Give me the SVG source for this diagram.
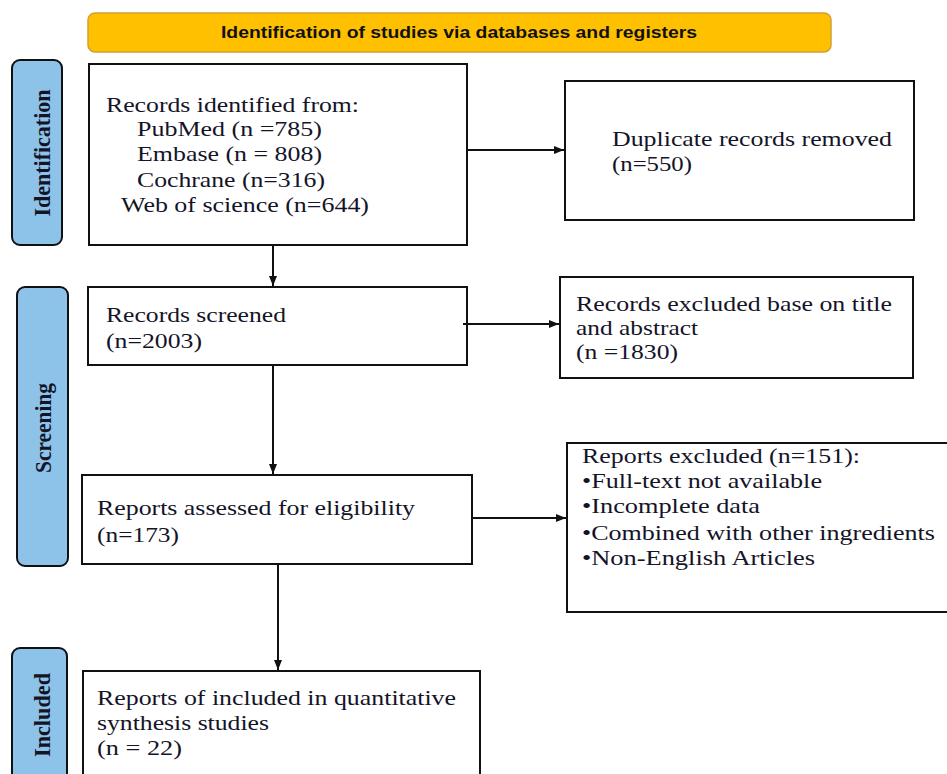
<svg xmlns="http://www.w3.org/2000/svg" width="947" height="774" viewBox="0 0 947 774">
<style>
.box{fill:#fff;stroke:#111;stroke-width:2}
.lab{fill:#8DC3E8;stroke:#111;stroke-width:2}
.t{font-family:"Liberation Serif","Times New Roman",serif;font-size:22px;fill:#141428}
.lt{font-family:"Liberation Serif","Times New Roman",serif;font-size:23px;font-weight:bold;fill:#141428;text-anchor:middle}
.ban{font-family:"Liberation Sans",Arial,sans-serif;font-size:16px;font-weight:bold;fill:#111;text-anchor:middle}
.c{stroke:#111;stroke-width:2;fill:none;marker-end:url(#ah)}
</style>
<defs>
<marker id="ah" markerWidth="10" markerHeight="8" refX="10" refY="4" orient="auto" markerUnits="userSpaceOnUse">
<path d="M0,0 L10,4 L0,8 Z" fill="#111"/>
</marker>
</defs>
<rect width="947" height="774" fill="#fff"/>
<g id="banner">
<rect x="88" y="13" width="743" height="39" rx="7" fill="#FFC000" stroke="#D2A030" stroke-width="1.5"/>
<text class="ban" x="459" y="38" textLength="476" lengthAdjust="spacingAndGlyphs">Identification of studies via databases and registers</text>
</g>
<g id="label-identification">
<rect class="lab" x="12" y="60" width="50" height="185" rx="8"/>
<text class="lt" transform="translate(50,153) rotate(-90)" textLength="127" lengthAdjust="spacingAndGlyphs">Identification</text>
</g>
<g id="label-screening">
<rect class="lab" x="17" y="287" width="51" height="279" rx="8"/>
<text class="lt" transform="translate(51,428) rotate(-90)" textLength="90" lengthAdjust="spacingAndGlyphs">Screening</text>
</g>
<g id="label-included">
<rect class="lab" x="12" y="648" width="55" height="140" rx="8"/>
<text class="lt" transform="translate(50,715) rotate(-90)" textLength="84" lengthAdjust="spacingAndGlyphs">Included</text>
</g>
<g id="records-identified">
<rect class="box" x="89" y="64" width="378" height="181"/>
<text class="t" x="106" y="112" textLength="253" lengthAdjust="spacingAndGlyphs">Records identified from:</text>
<text class="t" x="137" y="136" textLength="185" lengthAdjust="spacingAndGlyphs">PubMed (n =785)</text>
<text class="t" x="137" y="161" textLength="185" lengthAdjust="spacingAndGlyphs">Embase (n = 808)</text>
<text class="t" x="137" y="187" textLength="188" lengthAdjust="spacingAndGlyphs">Cochrane (n=316)</text>
<text class="t" x="121" y="212" textLength="248" lengthAdjust="spacingAndGlyphs">Web of science (n=644)</text>
</g>
<g id="duplicates">
<rect class="box" x="565" y="81" width="349" height="139"/>
<text class="t" x="612" y="146" textLength="280" lengthAdjust="spacingAndGlyphs">Duplicate records removed</text>
<text class="t" x="612" y="171" textLength="80" lengthAdjust="spacingAndGlyphs">(n=550)</text>
</g>
<g id="records-screened">
<rect class="box" x="88" y="287" width="379" height="78"/>
<text class="t" x="106" y="322" textLength="180" lengthAdjust="spacingAndGlyphs">Records screened</text>
<text class="t" x="106" y="348" textLength="96" lengthAdjust="spacingAndGlyphs">(n=2003)</text>
</g>
<g id="records-excluded">
<rect class="box" x="560" y="277" width="353" height="101"/>
<text class="t" x="576" y="311" textLength="316" lengthAdjust="spacingAndGlyphs">Records excluded base on title</text>
<text class="t" x="576" y="335" textLength="122" lengthAdjust="spacingAndGlyphs">and abstract</text>
<text class="t" x="576" y="359" textLength="102" lengthAdjust="spacingAndGlyphs">(n =1830)</text>
</g>
<g id="reports-assessed">
<rect class="box" x="82" y="475" width="390" height="89"/>
<text class="t" x="97" y="515" textLength="318" lengthAdjust="spacingAndGlyphs">Reports assessed for eligibility</text>
<text class="t" x="97" y="542" textLength="82" lengthAdjust="spacingAndGlyphs">(n=173)</text>
</g>
<g id="reports-excluded">
<rect class="box" x="567" y="443" width="390" height="169"/>
<text class="t" x="582" y="463" textLength="278" lengthAdjust="spacingAndGlyphs">Reports excluded (n=151):</text>
<text class="t" x="582" y="488" textLength="240" lengthAdjust="spacingAndGlyphs">•Full-text not available</text>
<text class="t" x="582" y="513" textLength="178" lengthAdjust="spacingAndGlyphs">•Incomplete data</text>
<text class="t" x="582" y="540" textLength="353" lengthAdjust="spacingAndGlyphs">•Combined with other ingredients</text>
<text class="t" x="582" y="565" textLength="233" lengthAdjust="spacingAndGlyphs">•Non-English Articles</text>
</g>
<g id="included-studies">
<rect class="box" x="83" y="671" width="397" height="120"/>
<text class="t" x="97" y="705" textLength="359" lengthAdjust="spacingAndGlyphs">Reports of included in quantitative</text>
<text class="t" x="97" y="730" textLength="172" lengthAdjust="spacingAndGlyphs">synthesis studies</text>
<text class="t" x="97" y="755" textLength="85" lengthAdjust="spacingAndGlyphs">(n = 22)</text>
</g>
<g id="connectors">
<line class="c" x1="467" y1="150" x2="564" y2="150"/>
<line class="c" x1="273" y1="245" x2="273" y2="286"/>
<line class="c" x1="463" y1="324" x2="559" y2="324"/>
<line class="c" x1="273" y1="365" x2="273" y2="474"/>
<line class="c" x1="472" y1="518" x2="566" y2="518"/>
<line class="c" x1="278" y1="564" x2="278" y2="670"/>
</g>
</svg>
